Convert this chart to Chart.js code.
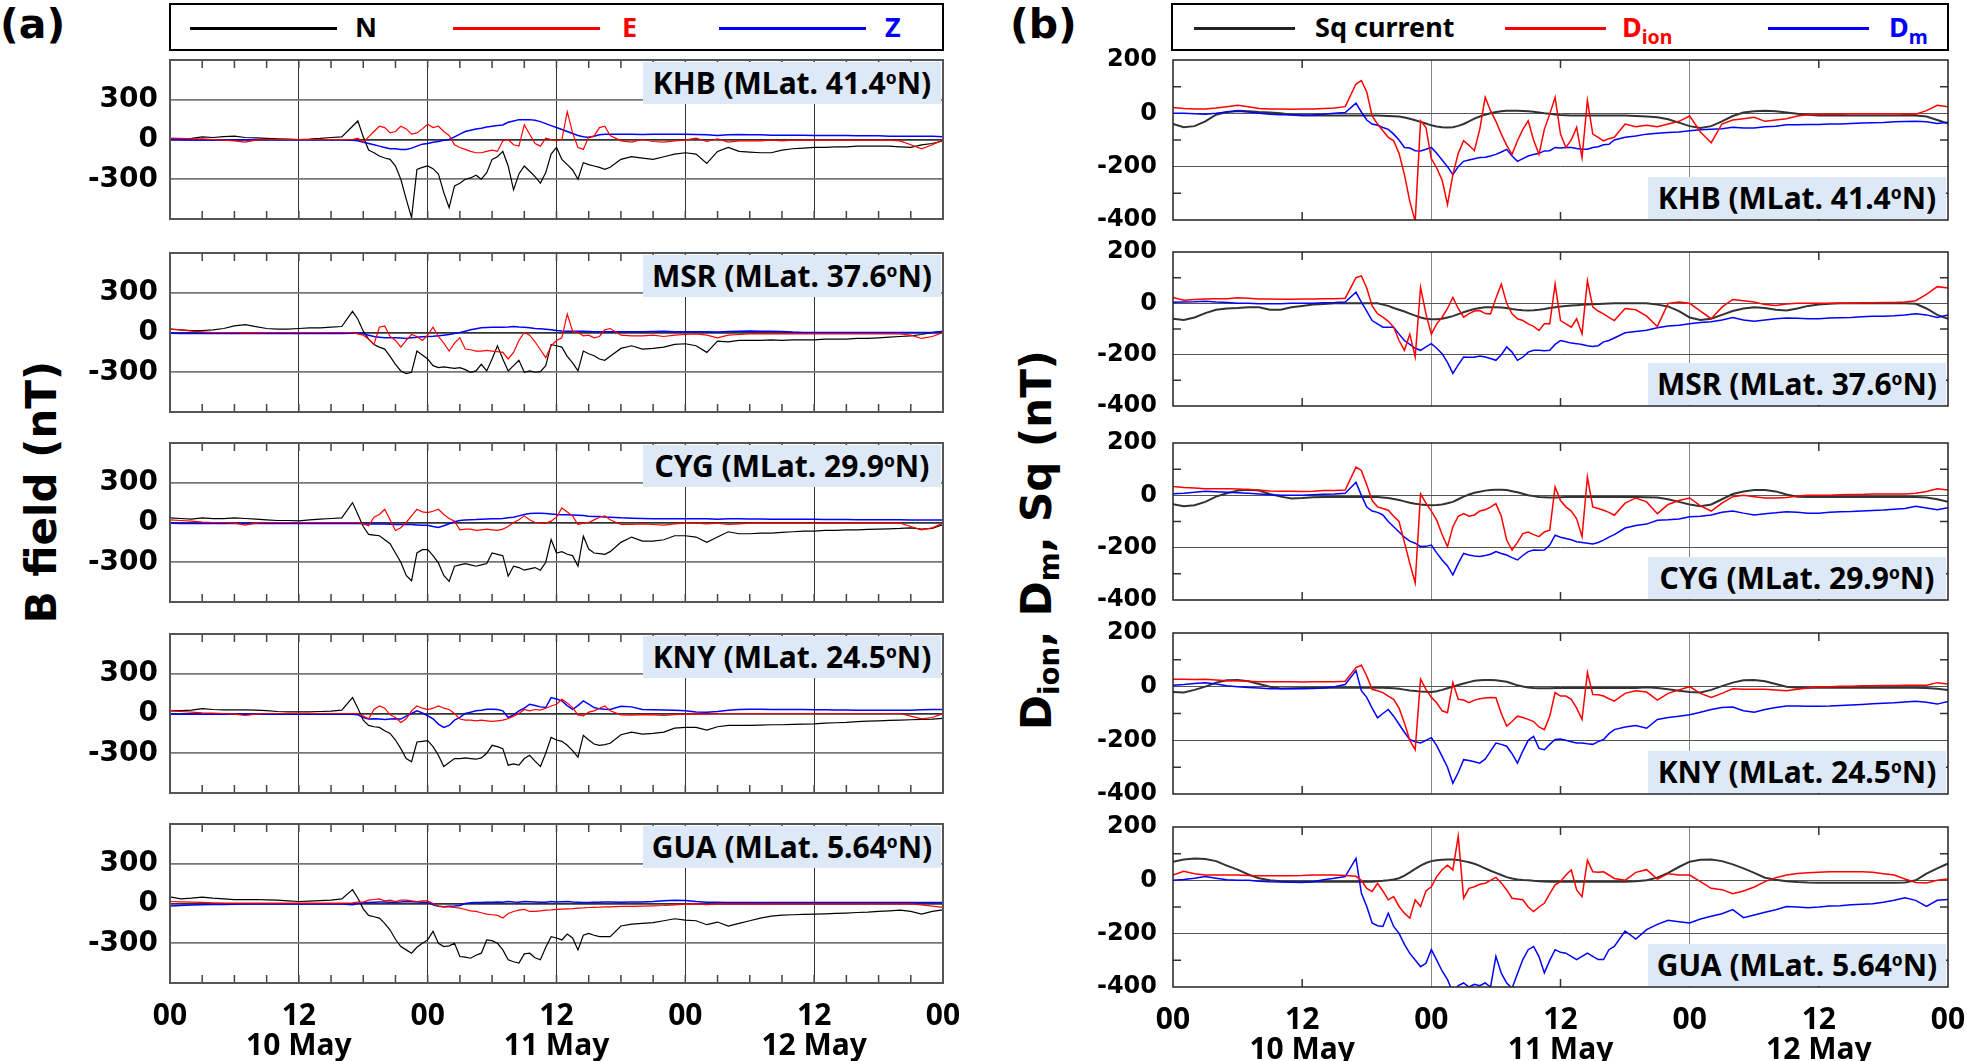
<!DOCTYPE html>
<html>
<head>
<meta charset="utf-8">
<title>B field and Dion / Dm / Sq, 10-12 May</title>
<script src="https://cdn.jsdelivr.net/npm/chart.js@4.4.1/dist/chart.umd.min.js"></script>
<style>
  html, body { margin: 0; padding: 0; background: #fff; }
  body { position: relative; width: 1967px; height: 1061px; overflow: hidden;
         font-family: "Noto Sans", sans-serif; font-weight: bold; color: #000; }
  canvas { position: absolute; }
  .box { position: absolute; border: 2px solid #000; box-sizing: border-box; }
  .seg { position: absolute; height: 3px; }
  .ltxt { position: absolute; top: 3px; font-size: 27px; line-height: 48px; white-space: nowrap; }
  .ltxt sub { font-size: 72%; line-height: 0; vertical-align: -0.35em; }
  .tag { position: absolute; background: #dde9f6; height: 42px; line-height: 42px;
         font-size: 30px; text-align: center; white-space: nowrap; }
  .tag sup { font-size: 58%; line-height: 0; vertical-align: 0.6em; }
  .title { position: absolute; transform: translate(-50%, -50%) rotate(-90deg);
           font-family: "DejaVu Sans", sans-serif; font-size: 42px; white-space: nowrap; }
  .title sub { font-size: 66%; line-height: 0; vertical-align: -0.3em; }
  .pid { position: absolute; top: 0; font-family: "DejaVu Sans", sans-serif; font-size: 41px; line-height: 48px; }
</style>
</head>
<body>

<div class="pid" style="left:0px">(a)</div>
<div class="pid" style="left:1010px">(b)</div>

<div class="box" style="left:169px;top:3px;width:775px;height:48px"></div>
<div class="seg" style="left:190px;top:27px;width:147px;background:#000"></div>
<div class="ltxt" style="left:355px;color:#000">N</div>
<div class="seg" style="left:453px;top:27px;width:147px;background:#f00"></div>
<div class="ltxt" style="left:622px;color:#f00">E</div>
<div class="seg" style="left:719px;top:27px;width:147px;background:#00f"></div>
<div class="ltxt" style="left:885px;color:#00f">Z</div>

<div class="box" style="left:1171px;top:3px;width:778px;height:48px"></div>
<div class="seg" style="left:1194px;top:27px;width:101px;background:#222"></div>
<div class="ltxt" style="left:1315px;color:#000">Sq current</div>
<div class="seg" style="left:1505px;top:27px;width:101px;background:#f00"></div>
<div class="ltxt" style="left:1622px;color:#f00">D<sub>ion</sub></div>
<div class="seg" style="left:1768px;top:27px;width:101px;background:#00f"></div>
<div class="ltxt" style="left:1889px;color:#00f">D<sub>m</sub></div>

<div class="title" style="left:41px;top:492px">B field (nT)</div>
<div class="title" style="left:1036px;top:540px">D<sub>ion</sub>, D<sub>m</sub>, Sq (nT)</div>

<script>
// hours since 00 UT on 10 May (half-hourly through the storm main phase)
const hours = [0, 1, 2, 3, 4, 5, 6, 7, 8, 9, 10, 11, 12, 13, 14, 15, 16,
  17, 17.5, 18, 18.5, 19, 19.5, 20, 20.5, 21, 21.5, 22, 22.5,
  23, 23.5, 24, 24.5, 25, 25.5, 26, 26.5, 27, 27.5, 28, 28.5,
  29, 29.5, 30, 30.5, 31, 31.5, 32, 32.5, 33, 33.5, 34, 34.5,
  35, 35.5, 36, 36.5, 37, 37.5, 38, 38.5, 39, 39.5, 40, 40.5,
  41,
  42, 43, 44, 45, 46, 47,
  48, 49, 50, 51, 52, 53, 54, 55, 56, 57, 58, 59,
  60, 61, 62, 63, 64, 65, 66, 67, 68, 69, 70, 71,
  72];
const dayLabels = ['10 May', '11 May', '12 May'];
const stations = ['KHB', 'MSR', 'CYG', 'KNY', 'GUA'];
const mlat = ['41.4', '37.6', '29.9', '24.5', '5.64'];
const leftTickLabels = [-300, 0, 300];
const rightTickLabels = [-400, -200, 0, 200];

// (a) N, E, Z components (nT)
const khbN = [5, 5, 8, 20, 15, 22, 25, 15, 12, 8, 5, 3, 0, 3, 8, 15, 20,
  100, 140, 20, -80, -100, -125, -140, -150, -200, -300, -450, -590,
  -225, -210, -200, -220, -260, -400, -515, -350, -330, -300, -290, -270,
  -300, -250, -150, -130, -90, -200, -380, -260, -200, -240, -280, -330,
  -250, -110, -60, -150, -190, -230, -300, -175, -190, -200, -210, -225,
  -210,
  -150, -130, -140, -150, -130, -110,
  -100, -110, -180, -90, -60, -90, -95, -100, -100, -80, -70, -65,
  -60, -60, -55, -55, -50, -50, -50, -50, -55, -60, -40, -30,
  -10];
const khbE = [10, 8, 5, 5, 0, -5, -10, -20, -5, 0, 0, 0, 0, 0, 0, 0, 0,
  0, 10, -20, 20, 60, 100, 90, 50, 60, 100, 80, 40,
  50, 80, 115, 90, 100, 60, 30, -40, -60, -75, -90, -100,
  -100, -90, -80, -90, -10, 0, -40, -50, 110, 40, -30, -50,
  10, 0, -10, 0, 210, 50, -60, -75, 20, 25, 90, 100,
  30,
  -10, -20, 0, -15, -20, -10,
  -5, 10, -15, 5, -20, -10, -10, -10, -5, -10, -5, -5,
  -5, -5, -5, -5, -5, -5, -5, -5, -10, -40, -70, -40,
  -5];
const khbZ = [0, -2, -3, -3, -3, -3, -3, -2, -2, -2, -2, -2, -2, -2, -2, -2, -2,
  -5, -10, -20, -30, -40, -50, -60, -70, -70, -75, -75, -65,
  -50, -35, -30, -20, -15, -5, 0, 20, 40, 60, 70, 80,
  85, 95, 100, 105, 110, 130, 140, 150, 150, 150, 145, 135,
  120, 105, 90, 75, 60, 45, 30, 20, 15, 25, 35, 40,
  40,
  40, 40, 38, 40, 40, 40,
  40, 38, 35, 30, 35, 38, 35, 35, 32, 32, 32, 32,
  30, 30, 30, 30, 28, 28, 28, 25, 25, 25, 25, 25,
  20];

const msrN = [25, 20, 15, 15, 20, 30, 50, 60, 45, 30, 25, 25, 30, 35, 35, 40, 45,
  160, 100, 10, -50, -90, -110, -125, -180, -240, -290, -310, -300,
  -140, -170, -200, -250, -265, -260, -265, -270, -265, -280, -300, -290,
  -240, -290, -200, -100, -200, -290, -250, -210, -300, -290, -300, -295,
  -250, -90, -100, -110, -180, -230, -290, -140, -160, -175, -200, -210,
  -180,
  -120, -100, -125, -120, -110, -90,
  -85, -100, -150, -65, -70, -60, -60, -60, -55, -60, -55, -55,
  -55, -50, -50, -50, -45, -45, -40, -35, -30, -25, -15, 0,
  10];
const msrE = [25, 20, 10, 5, 0, 0, 0, -3, -3, 0, 0, 0, 0, 0, 0, 0, 0,
  0, -10, -20, -50, -90, 40, 50, -30, -60, -110, -60, -15,
  -30, -60, -20, 40, -30, -80, -140, -80, -40, -125, -130, -140,
  -140, -135, -140, -145, -150, -200, -150, -60, 0, -20, -70, -130,
  -190, -100, -60, -40, 140, 10, 0, -25, -20, -40, -30, 20,
  30,
  -20, -25, -25, -20, -30, -20,
  -15, -10, -20, -40, -20, -15, -10, -10, -10, -10, -10, -10,
  -10, -10, -10, -10, -10, -10, -10, -10, -10, -20, -45, -30,
  0];
const msrZ = [-5, -8, -8, -8, -8, -8, -8, -8, -8, -8, -8, -8, -8, -8, -8, -8, -8,
  -5, -5, -10, -20, -30, -35, -40, -40, -40, -42, -45, -40,
  -35, -32, -30, -28, -25, -20, -15, -8, 0, 10, 20, 28,
  35, 38, 40, 40, 40, 42, 45, 42, 40, 35, 30, 28,
  25, 20, 15, 12, 10, 10, 10, 9, 8, 6, 5, 5,
  5,
  5, 5, 5, 8, 10, 5,
  5, 5, 5, 3, 8, 10, 12, 10, 10, 8, 3, 0,
  0, 0, 0, 0, 0, 0, 0, 0, 0, 0, 0, 0,
  5];

const cygN = [35, 30, 25, 35, 30, 30, 35, 30, 25, 20, 15, 15, 12, 20, 25, 30, 35,
  150, 60, -30, -90, -95, -100, -130, -160, -230, -300, -400, -440,
  -230, -205, -205, -250, -305, -400, -445, -330, -320, -310, -320, -330,
  -320, -310, -230, -240, -250, -405, -330, -340, -360, -350, -340, -360,
  -300, -128, -230, -220, -240, -250, -330, -103, -200, -230, -235, -240,
  -220,
  -150, -110, -140, -140, -130, -100,
  -100, -110, -150, -110, -70, -85, -85, -80, -80, -75, -70, -65,
  -65, -60, -60, -55, -55, -52, -50, -48, -45, -40, -50, -45,
  -15];
const cygE = [20, 15, 10, 3, 0, 0, -5, -20, -5, 0, 0, 0, 0, 0, 0, 0, 0,
  0, 0, -10, -25, 40, 60, 100, 20, -60, -40, 0, 50,
  100, 80, 75, 85, 100, 60, 30, 10, -55, -50, -50, -60,
  -55, -50, -55, -60, -50, -30, 0, 20, 50, 20, 0, -5,
  -5, 10, 40, 110, 80, 50, -15, -5, 0, 20, 40, 50,
  20,
  -15, -15, -10, -15, -20, -10,
  -5, -5, -10, -5, -15, -10, -5, -5, -5, -5, -5, -5,
  -5, -5, -5, -5, -5, -5, -5, -5, -5, -30, -55, -40,
  -5];
const cygZ = [-5, -8, -8, -8, -8, -8, -8, -8, -8, -8, -8, -8, -8, -8, -8, -8, -8,
  -8, -8, -10, -12, -12, -12, -12, -13, -15, -15, -15, -16,
  -18, -20, -20, -30, -38, -25, -10, 5, 15, 18, 20, 22,
  25, 27, 28, 29, 30, 35, 40, 50, 60, 68, 70, 70,
  68, 64, 60, 59, 58, 57, 55, 52, 48, 46, 45, 42,
  40,
  35, 32, 30, 28, 28, 28,
  28, 28, 28, 25, 28, 28, 27, 26, 25, 25, 24, 24,
  24, 23, 22, 22, 21, 20, 20, 20, 20, 18, 18, 18,
  18];

const knyN = [20, 22, 25, 37, 30, 28, 27, 27, 25, 22, 15, 12, 12, 12, 15, 18, 25,
  120, 40, -50, -90, -100, -105, -130, -150, -200, -265, -340, -365,
  -215, -210, -205, -250, -315, -400, -370, -340, -340, -335, -340, -345,
  -335, -300, -240, -250, -265, -390, -380, -390, -340, -315, -360, -400,
  -300, -180, -200, -210, -240, -280, -330, -165, -200, -230, -240, -235,
  -225,
  -160, -140, -155, -150, -140, -110,
  -105, -105, -125, -100, -90, -90, -90, -88, -85, -85, -82, -80,
  -78, -72, -70, -67, -62, -58, -55, -52, -50, -47, -45, -42,
  -37];
const knyE = [20, 15, 10, 5, 3, 0, -5, -15, -5, 0, 0, 0, 0, 0, 0, 0, 0,
  0, 0, -20, -40, 30, 57, 40, -10, -30, -67, -40, 20,
  57, 40, 30, 40, 57, 40, 30, 0, -42, -50, -50, -55,
  -50, -55, -60, -55, -50, -40, -20, 0, 30, 20, 30, 25,
  40, 57, 70, 107, 80, 45, -10, -17, 10, 20, 40, 57,
  20,
  -10, -12, -8, -10, -15, -8,
  -5, -3, -5, 0, 0, 0, 0, 0, 0, 0, 0, 0,
  0, 0, 0, 0, 0, 0, 0, 0, 0, -20, -40, -30,
  0];
const knyZ = [-5, -5, -5, -5, -5, -5, -5, -5, -5, -5, -5, -5, -5, -5, -5, -5, -5,
  -5, -10, -30, -42, -40, -42, -45, -42, -40, -42, -20, 0,
  20, 5, -17, -40, -80, -105, -90, -50, -30, 0, 10, 20,
  25, 32, 32, 30, 20, -30, -10, 20, 40, 70, 60, 50,
  45, 120, 110, 95, 60, 32, 60, 95, 70, 45, 35, 32,
  30,
  55, 50, 30, 28, 27, 25,
  20, 12, 10, 15, 25, 30, 32, 32, 30, 30, 30, 30,
  28, 28, 27, 26, 25, 25, 25, 25, 25, 25, 28, 30,
  30];

const guaN = [50, 35, 40, 48, 40, 35, 30, 30, 30, 28, 25, 20, 15, 18, 22, 25, 35,
  105, 40, -40, -90, -100, -110, -150, -200, -270, -325, -350, -375,
  -330, -300, -275, -210, -300, -325, -320, -300, -400, -405, -413, -390,
  -375, -275, -280, -300, -350, -425, -440, -450, -380, -375, -410, -425,
  -330, -250, -260, -275, -230, -260, -350, -240, -225, -240, -250, -250,
  -250,
  -170, -155, -150, -145, -130, -115,
  -125, -130, -160, -140, -170, -150, -130, -110, -95, -88, -85, -82,
  -80, -78, -75, -72, -68, -65, -60, -55, -50, -60, -80, -60,
  -48];
const guaE = [15, 12, 10, 8, 5, 3, 3, 3, 3, 3, 3, 3, 3, 3, 3, 3, 3,
  5, 10, 10, 25, 30, 35, 20, 25, 15, 25, 25, 20,
  15, 20, 20, 0, -20, -25, -25, -30, -35, -45, -55, -60,
  -70, -80, -85, -90, -110, -75, -60, -50, -45, -60, -60, -55,
  -50, -48, -45, -42, -40, -38, -35, -33, -30, -29, -28, -26,
  -25,
  -22, -22, -20, -18, -15, -10,
  -5, -3, -8, -3, -3, -3, -3, -5, -3, -3, -3, -3,
  -3, -3, -3, -3, -3, -3, -3, -3, -3, -3, -10, -20,
  -30];
const guaZ = [-18, -15, -12, -10, -8, -8, -5, -3, -3, -3, -3, -3, -3, -3, -3, -3, -3,
  -10, 0, 5, 8, 10, 12, 12, 10, 10, 12, 15, 14,
  12, 10, 10, -10, -20, -25, -20, -18, -15, 0, 5, 8,
  8, 10, 10, 12, 10, 15, 12, 10, 15, 14, 12, 10,
  10, 15, 12, 14, 15, 12, 10, 8, 8, 9, 10, 11,
  12,
  10, 12, 12, 15, 20, 25,
  22, 15, 10, 10, 8, 8, 8, 8, 8, 8, 8, 8,
  8, 8, 8, 8, 8, 8, 8, 8, 8, 8, 8, 8,
  8];

// (b) Sq current, Dion, Dm (nT)
const khbSq = [-40, -52, -48, -30, -5, 5, 10, 8, 5, 3, 0, -5, -8, -8, -8, -8, -8,
  -8, -8, -8, -8, -8, -9, -10, -11, -12, -16, -20, -26,
  -32, -38, -45, -49, -52, -53, -52, -47, -40, -30, -20, -12,
  -5, 0, 5, 8, 10, 10, 10, 9, 8, 6, 3, 0,
  -2, -4, -6, -7, -8, -8, -8, -8, -8, -8, -8, -8,
  -8,
  -8, -10, -12, -15, -22, -35,
  -48, -55, -48, -30, -10, 3, 8, 10, 8, 3, -2, -5,
  -8, -8, -8, -8, -8, -8, -8, -8, -8, -8, -12, -25,
  -38];
const khbDion = [22, 18, 16, 16, 20, 25, 30, 25, 18, 16, 16, 15, 16, 16, 18, 20, 25,
  110, 123, 80, -10, -40, -65, -90, -103, -150, -230, -330, -405,
  -28, -53, -170, -205, -250, -342, -230, -150, -103, -120, -140, -60,
  60, 10, -30, -78, -120, -154, -103, -60, -28, -100, -154, -60,
  -3, 60, -78, -128, -100, -53, -166, 48, -78, -90, -103, -95,
  -90,
  -40, -50, -45, -50, -40, -30,
  -10, -70, -110, -40, -25, -20, -15, -30, -25, -20, -10, -5,
  -3, -3, -3, -2, -2, -2, -2, -2, -3, -3, 10, 30,
  25];
const khbDm = [0, 0, -2, -3, 0, 5, 8, 5, 0, -3, -5, -5, -6, -5, -3, 0, 3,
  38, 5, -25, -40, -45, -53, -60, -78, -100, -128, -130, -140,
  -141, -135, -128, -150, -175, -200, -230, -200, -180, -175, -170, -166,
  -165, -160, -154, -145, -135, -160, -180, -170, -160, -154, -150, -141,
  -140, -128, -130, -128, -128, -132, -135, -135, -128, -125, -118, -116,
  -100,
  -90, -85, -78, -75, -72, -70,
  -65, -62, -60, -58, -52, -55, -55, -50, -48, -43, -43, -42,
  -42, -40, -40, -38, -36, -35, -34, -32, -31, -30, -32, -38,
  -33];

const msrSq = [-60, -65, -55, -38, -25, -20, -18, -15, -15, -25, -25, -15, -10, -5, -3, 0, 0,
  0, 0, 0, 0, 0, -5, -10, -18, -25, -32, -40, -48,
  -55, -60, -62, -62, -60, -55, -50, -42, -35, -28, -22, -18,
  -15, -15, -15, -16, -18, -22, -25, -27, -28, -27, -25, -22,
  -18, -15, -12, -10, -8, -7, -6, -5, -4, -3, -2, -1,
  0,
  0, 0, 0, -5, -12, -30,
  -55, -65, -60, -45, -30, -20, -15, -18, -25, -28, -20, -10,
  -5, -2, 0, 0, 0, 0, 0, 0, 0, -2, -20, -45,
  -60];
const msrDion = [23, 12, 15, 17, 18, 18, 22, 20, 17, 17, 16, 16, 17, 17, 18, 18, 20,
  100, 107, 60, -10, -40, -54, -70, -93, -145, -183, -120, -209,
  62, -41, -120, -80, -54, -20, 23, -20, -54, -40, -30, -28,
  -40, -41, 20, 75, 0, -41, -60, -67, -80, -90, -106, -80,
  -80, 75, -67, -80, -93, -60, -119, 88, -15, -30, -41, -55,
  -67,
  -20, -25, -50, -90, 0, 5,
  0, -30, -60, -15, 15, 10, 5, -5, -8, -3, 0, 0,
  0, 0, 0, 0, 2, 2, 3, 3, 5, 10, 35, 65,
  60];
const msrDm = [4, 5, 6, 8, 5, 3, 0, 0, -2, -2, -2, 0, 0, 0, 2, 3, 5,
  43, 5, -30, -67, -80, -93, -93, -93, -120, -145, -160, -175,
  -183, -170, -157, -175, -196, -230, -273, -240, -209, -210, -210, -205,
  -209, -215, -222, -200, -170, -190, -222, -210, -190, -183, -183, -185,
  -183, -160, -145, -150, -155, -157, -160, -165, -168, -165, -150, -145,
  -135,
  -115, -110, -105, -95, -88, -85,
  -80, -75, -72, -65, -55, -65, -70, -65, -60, -57, -58, -60,
  -60, -57, -56, -55, -52, -50, -50, -48, -45, -41, -45, -55,
  -45];

const cygSq = [-34, -42, -38, -25, -5, 8, 18, 21, 18, 5, -5, -12, -10, -7, -6, -6, -6,
  -6, -6, -6, -6, -6, -8, -10, -14, -18, -23, -28, -32,
  -35, -37, -38, -37, -35, -30, -25, -15, -5, 3, 10, 14,
  18, 20, 21, 21, 20, 16, 12, 6, 0, -3, -6, -7,
  -8, -8, -7, -6, -6, -6, -6, -6, -6, -6, -6, -6,
  -6,
  -6, -6, -7, -8, -15, -25,
  -35, -42, -35, -15, 5, 15, 20, 20, 15, 3, -5, -6,
  -6, -6, -6, -6, -6, -6, -6, -6, -6, -6, -8, -15,
  -25];
const cygDion = [34, 30, 28, 25, 25, 25, 24, 22, 20, 17, 16, 16, 15, 16, 18, 18, 20,
  108, 95, 40, -20, -44, -50, -57, -80, -100, -180, -260, -335,
  6, -30, -60, -95, -150, -196, -120, -80, -70, -80, -75, -60,
  -55, -45, -32, -80, -171, -209, -180, -146, -140, -150, -158, -140,
  -133, 32, -20, -44, -60, -90, -158, 70, -44, -50, -57, -65,
  -76,
  -30, -10, -25, -70, -35, -20,
  -10, -40, -60, -30, -5, 0, -5, -10, -10, -8, -3, 0,
  0, 0, 2, 3, 3, 5, 5, 5, 5, 8, 15, 25,
  20];
const cygDm = [6, 8, 12, 16, 14, 12, 10, 8, 5, 2, 0, 0, 0, 2, 4, 5, 8,
  50, 0, -45, -60, -65, -75, -100, -120, -140, -160, -175, -183,
  -196, -195, -190, -220, -247, -270, -304, -260, -222, -228, -232, -234,
  -230, -225, -215, -222, -228, -238, -247, -230, -215, -209, -210, -209,
  -190, -152, -160, -165, -170, -177, -180, -183, -186, -180, -171, -160,
  -150,
  -125, -115, -110, -95, -93, -90,
  -82, -80, -75, -65, -60, -68, -75, -70, -67, -63, -65, -68,
  -68, -65, -63, -62, -60, -58, -56, -53, -50, -42, -48, -55,
  -47];

const knySq = [-20, -22, -12, 0, 15, 24, 25, 20, 10, 0, -7, -6, -5, -4, -4, -4, -4,
  -4, -4, -4, -4, -4, -4, -5, -6, -8, -11, -14, -16,
  -18, -19, -20, -17, -12, -6, 0, 6, 12, 17, 22, 24,
  25, 25, 24, 21, 18, 12, 5, 1, -3, -5, -6, -6,
  -6, -5, -5, -5, -5, -5, -5, -5, -5, -5, -5, -5,
  -5,
  -5, -5, -2, -5, -10, -15,
  -20, -22, -12, 2, 15, 24, 25, 20, 10, 0, -4, -4,
  -4, -4, -4, -4, -4, -4, -4, -4, -4, -4, -5, -8,
  -12];
const knyDion = [28, 28, 27, 28, 25, 22, 22, 20, 18, 18, 18, 18, 17, 18, 18, 18, 20,
  71, 80, 40, -10, -15, -22, -35, -47, -80, -135, -200, -235,
  28, -10, -40, -60, -90, -97, 15, -47, -50, -60, -50, -45,
  -42, -40, -41, -100, -147, -130, -110, -115, -122, -130, -150, -160,
  -110, -22, -35, -35, -47, -80, -122, 52, -29, -30, -35, -45,
  -54,
  -25, -15, -20, -50, -25, -12,
  0, -25, -40, -25, -8, -10, -10, -10, -12, -15, -10, -5,
  0, 0, 2, 2, 3, 3, 4, 4, 5, 5, 5, 15,
  10];
const knyDm = [5, 8, 12, 15, 10, 3, 0, -3, -5, -8, -8, -8, -8, -7, -5, 0, 8,
  60, -15, -40, -80, -116, -100, -85, -110, -140, -170, -197, -205,
  -210, -200, -190, -220, -260, -300, -360, -320, -272, -275, -280, -285,
  -270, -240, -210, -215, -222, -250, -285, -240, -200, -185, -230, -235,
  -215, -197, -195, -200, -205, -210, -210, -213, -215, -205, -197, -175,
  -160,
  -150, -145, -155, -122, -115, -110,
  -105, -95, -85, -78, -76, -90, -95, -85, -78, -72, -72, -73,
  -73, -72, -70, -68, -66, -64, -62, -60, -57, -54, -58, -65,
  -55];

const guaSq = [70, 78, 82, 80, 72, 55, 40, 22, 8, 0, -3, -5, -5, -5, -5, -5, -5,
  -5, -5, -5, -5, -3, -2, 0, 3, 8, 18, 30, 43,
  55, 65, 72, 75, 77, 78, 78, 76, 72, 68, 62, 54,
  45, 36, 28, 20, 12, 7, 3, 1, 0, -2, -3, -4,
  -5, -5, -5, -5, -5, -5, -5, -5, -5, -5, -5, -5,
  -5,
  -5, -3, 0, 10, 28, 50,
  70, 77, 78, 72, 60, 45, 28, 10, 2, -3, -6, -8,
  -9, -9, -9, -9, -9, -9, -9, -9, -8, 0, 25, 45,
  63];
const guaDion = [20, 34, 25, 20, 20, 20, 20, 18, 17, 17, 17, 17, 18, 20, 20, 20, 18,
  15, 0, -30, -42, -11, -40, -73, -61, -98, -123, -142, -73,
  -98, -40, -24, 14, 40, 57, 39, 166, -67, -30, -24, -15,
  -11, 0, 11, -10, -36, -67, -70, -73, -100, -117, -100, -86,
  -50, -17, -5, 20, 39, -36, -61, 76, 32, 30, 32, 20,
  7,
  0, 30, 40, 5, 25, 20,
  20, -5, -30, -35, -50, -40, -25, -5, 10, 20, 26, 28,
  30, 32, 32, 32, 32, 30, 25, 20, 5, -8, -10, 0,
  5];
const guaDm = [0, 3, 8, 14, 8, 2, 0, 0, -3, -5, -6, -7, -8, -5, 2, 8, 14,
  82, -48, -98, -160, -170, -173, -123, -173, -199, -240, -274, -299,
  -324, -311, -260, -299, -340, -372, -420, -395, -385, -400, -390, -395,
  -385, -400, -285, -348, -385, -405, -350, -297, -260, -248, -286, -347,
  -300, -260, -270, -273, -285, -297, -285, -273, -285, -297, -297, -260,
  -248,
  -190, -220, -185, -165, -150, -155,
  -160, -145, -135, -125, -110, -140, -130, -120, -110, -98, -100, -103,
  -100, -96, -95, -92, -90, -88, -82, -75, -65, -75, -98, -75,
  -72];

const leftSeries = [[khbN, khbE, khbZ], [msrN, msrE, msrZ], [cygN, cygE, cygZ],
                    [knyN, knyE, knyZ], [guaN, guaE, guaZ]];
const rightSeries = [[khbSq, khbDion, khbDm], [msrSq, msrDion, msrDm], [cygSq, cygDion, cygDm],
                     [knySq, knyDion, knyDm], [guaSq, guaDion, guaDm]];

// panel placement
const leftTops = [60, 253, 443, 634, 824];
const leftHeight = 159;
const rightTops = [60, 252, 443, 633, 827];
const rightBottoms = [220, 406, 600, 794, 987];

// inward frame ticks and the plot frame
const frameTicks = {
  id: 'frameTicks',
  afterDraw(chart, args, o) {
    const { ctx, chartArea: a, scales } = chart;
    ctx.save();
    ctx.strokeStyle = o.tickColor;
    ctx.lineWidth = 1.5;
    ctx.beginPath();
    o.xMinor.forEach(h => {
      const px = scales.x.getPixelForValue(h);
      ctx.moveTo(px, a.top); ctx.lineTo(px, a.top + o.len);
      ctx.moveTo(px, a.bottom); ctx.lineTo(px, a.bottom - o.len);
    });
    o.yMinor.forEach(v => {
      const py = scales.y.getPixelForValue(v);
      ctx.moveTo(a.left, py); ctx.lineTo(a.left + o.len, py);
      ctx.moveTo(a.right, py); ctx.lineTo(a.right - o.len, py);
    });
    ctx.stroke();
    ctx.strokeStyle = o.frameColor;
    ctx.lineWidth = o.frameWidth;
    ctx.strokeRect(a.left, a.top, a.right - a.left, a.bottom - a.top);
    ctx.restore();
  }
};

const leftMinor = [];
for (let h = 3; h < 72; h += 3) leftMinor.push(h);

function addCanvas(left, top, w, h) {
  const c = document.createElement('canvas');
  c.width = w; c.height = h;
  c.style.left = left + 'px'; c.style.top = top + 'px';
  c.style.width = w + 'px'; c.style.height = h + 'px';
  document.body.appendChild(c);
  return c;
}

function panel(p) {
  const padT = 16;
  const padB = p.last ? 2 : 14;
  const xh = p.last ? 84 : 0;
  const w = p.yw + (p.right - p.left) + p.padR;
  const h = padT + (p.bottom - p.top) + xh + padB;
  const c = addCanvas(p.left - p.yw, p.top - padT, w, h);

  new Chart(c, {
    type: 'line',
    data: {
      datasets: p.series.map(s => ({
        data: hours.map((t, i) => ({ x: t, y: s.values[i] })),
        borderColor: s.color,
        borderWidth: s.width,
        order: s.order,
        pointRadius: 0,
        tension: 0,
        fill: false
      }))
    },
    options: {
      responsive: false,
      animation: false,
      events: [],
      layout: { padding: { top: padT, right: p.padR, bottom: padB, left: 0 }, autoPadding: false },
      plugins: {
        legend: { display: false },
        tooltip: { enabled: false },
        frameTicks: p.frame
      },
      scales: {
        x: {
          type: 'linear', min: 0, max: 72,
          afterFit: s => { s.height = xh; s.paddingLeft = 0; s.paddingRight = 0; },
          border: { display: false },
          grid: { drawTicks: false, color: ctx => p.xGrid(ctx.tick.value), lineWidth: p.xGridWidth },
          ticks: {
            display: p.last, stepSize: 12, autoSkip: false, maxRotation: 0, padding: 18,
            color: '#000',
            font: { family: 'Noto Sans', weight: 'bold', size: 30, lineHeight: 1 },
            callback: v => v % 24 === 0 ? '00' : ['12', dayLabels[Math.floor(v / 24)]]
          }
        },
        y: {
          min: p.yMin, max: p.yMax,
          afterFit: s => { s.width = p.yw; s.paddingTop = 0; s.paddingBottom = 0; },
          border: { display: false },
          grid: { drawTicks: false, color: ctx => p.yGrid(ctx.tick.value), lineWidth: p.yGridWidth },
          ticks: {
            stepSize: p.yStep, autoSkip: false, padding: p.yPad, color: '#000',
            font: { family: 'DejaVu Sans', weight: 'bold', size: p.yFont },
            callback: v => p.yLabels.includes(v) ? String(v) : ''
          }
        }
      }
    },
    plugins: [frameTicks]
  });
}

function addTag(left, top, i) {
  const d = document.createElement('div');
  d.className = 'tag';
  d.style.left = left + 'px';
  d.style.top = top + 'px';
  d.style.width = '298px';
  d.innerHTML = stations[i] + ' (MLat. ' + mlat[i] + '<sup>o</sup>N)';
  document.body.appendChild(d);
}

stations.forEach((st, i) => {
  const [n, e, z] = leftSeries[i];
  panel({
    left: 170, right: 943, top: leftTops[i], bottom: leftTops[i] + leftHeight,
    yw: 90, padR: 22, last: i === 4,
    yMin: -600, yMax: 600, yStep: 300, yLabels: leftTickLabels, yPad: 12, yFont: 28,
    xGrid: v => (v > 0 && v < 72) ? '#333' : 'rgba(0,0,0,0)', xGridWidth: 1,
    yGrid: v => v === 0 ? '#333' : (Math.abs(v) === 300 ? '#777' : 'rgba(0,0,0,0)'), yGridWidth: 1.8,
    frame: { xMinor: leftMinor, yMinor: [], len: 8, tickColor: '#444', frameColor: '#555', frameWidth: 2 },
    series: [
      { values: n, color: '#000', width: 1.2, order: 3 },
      { values: e, color: '#ff0000', width: 1.2, order: 1 },
      { values: z, color: '#0000ff', width: 1.5, order: 2 }
    ]
  });
  addTag(643, leftTops[i] + 2, i);

  const [sq, dion, dm] = rightSeries[i];
  panel({
    left: 1173, right: 1948, top: rightTops[i], bottom: rightBottoms[i],
    yw: 80, padR: 18, last: i === 4,
    yMin: -400, yMax: 200, yStep: 100, yLabels: rightTickLabels, yPad: 16, yFont: 24,
    xGrid: v => (v === 24 || v === 48) ? '#888' : 'rgba(0,0,0,0)', xGridWidth: 1,
    yGrid: v => (v === 0 || v === -200) ? '#555' : 'rgba(0,0,0,0)', yGridWidth: 1,
    frame: { xMinor: [12, 36, 60], yMinor: [100, -100, -300], len: 8, tickColor: '#333', frameColor: '#222', frameWidth: 1.5 },
    series: [
      { values: sq, color: '#333', width: 2, order: 3 },
      { values: dion, color: '#ff0000', width: 1.5, order: 1 },
      { values: dm, color: '#0000ff', width: 1.5, order: 2 }
    ]
  });
  addTag(1648, rightBottoms[i] - 43, i);
});
</script>
</body>
</html>
